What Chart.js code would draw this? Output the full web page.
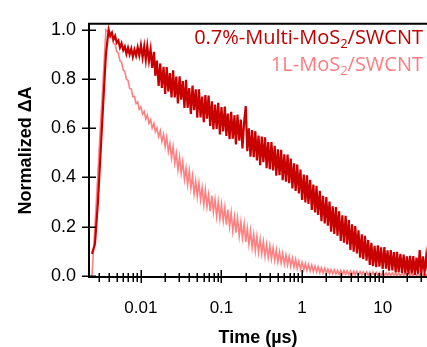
<!DOCTYPE html>
<html>
<head>
<meta charset="utf-8">
<script src="https://cdn.jsdelivr.net/npm/chart.js@4/dist/chart.umd.min.js"></script>
<style>
  html, body { margin: 0; padding: 0; background: #fff; }
</style>
</head>
<body>
<canvas id="decayChart" width="427" height="347"></canvas>
<script>
// Time axis (microseconds)
const timeUs = [
    // rise
    0.00247, 0.00269, 0.00293, 0.0031, 0.00338, 0.00368,
    // decay
    0.00398, 0.00417, 0.00437, 0.00457, 0.00479, 0.00501, 0.00525, 0.00550, 0.00575, 0.00603,
    0.00631, 0.00661, 0.00692, 0.00724, 0.00759, 0.00794, 0.00832, 0.00871, 0.00912, 0.00955,
    0.0100, 0.0105, 0.0110, 0.0115, 0.0120, 0.0126, 0.0132, 0.0138, 0.0145, 0.0151,
    0.0158, 0.0166, 0.0174, 0.0182, 0.0191, 0.0200, 0.0209, 0.0219, 0.0229, 0.0240,
    0.0251, 0.0263, 0.0275, 0.0288, 0.0302, 0.0316, 0.0331, 0.0347, 0.0363, 0.0380,
    0.0398, 0.0417, 0.0437, 0.0457, 0.0479, 0.0501, 0.0525, 0.0550, 0.0575, 0.0603,
    0.0631, 0.0661, 0.0692, 0.0724, 0.0759, 0.0794, 0.0832, 0.0871, 0.0912, 0.0955,
    0.100, 0.105, 0.110, 0.115, 0.120, 0.126, 0.132, 0.138, 0.145, 0.151,
    0.158, 0.166, 0.174, 0.182, 0.191, 0.200, 0.209, 0.219, 0.229, 0.240,
    0.251, 0.263, 0.275, 0.288, 0.302, 0.316, 0.331, 0.347, 0.363, 0.380,
    0.398, 0.417, 0.437, 0.457, 0.479, 0.501, 0.525, 0.550, 0.575, 0.603,
    0.631, 0.661, 0.692, 0.724, 0.759, 0.794, 0.832, 0.871, 0.912, 0.955,
    1.00, 1.05, 1.10, 1.15, 1.20, 1.26, 1.32, 1.38, 1.45, 1.51,
    1.58, 1.66, 1.74, 1.82, 1.91, 2.00, 2.09, 2.19, 2.29, 2.40,
    2.51, 2.63, 2.75, 2.88, 3.02, 3.16, 3.31, 3.47, 3.63, 3.80,
    3.98, 4.17, 4.37, 4.57, 4.79, 5.01, 5.25, 5.50, 5.75, 6.03,
    6.31, 6.61, 6.92, 7.24, 7.59, 7.94, 8.32, 8.71, 9.12, 9.55,
    10.0, 10.5, 11.0, 11.5, 12.0, 12.6, 13.2, 13.8, 14.5, 15.1,
    15.8, 16.6, 17.4, 18.2, 19.1, 20.0, 20.9, 21.9, 22.9, 24.0,
    25.1, 26.3, 27.5, 28.8, 30.2, 31.6, 33.1, 34.7, 36.3
];

// 0.7%-Multi-MoS2/SWCNT (dark red, noisy trace)
const multiMoS2 = [
    0.09, 0.13, 0.30, 0.45, 0.68, 0.90,
    1.0, 0.975, 0.988, 0.96, 0.975, 0.947, 0.956, 0.928, 0.945, 0.917,
    0.932, 0.902, 0.927, 0.90, 0.923, 0.89, 0.919, 0.895, 0.928, 0.896,
    0.937, 0.887, 0.932, 0.878, 0.933, 0.874, 0.92, 0.845, 0.91, 0.813,
    0.875, 0.772, 0.863, 0.764, 0.849, 0.739, 0.848, 0.749, 0.824, 0.725,
    0.835, 0.725, 0.81, 0.701, 0.811, 0.716, 0.791, 0.682, 0.797, 0.683,
    0.763, 0.658, 0.773, 0.673, 0.758, 0.643, 0.758, 0.644, 0.729, 0.625,
    0.735, 0.639, 0.733, 0.609, 0.709, 0.595, 0.696, 0.597, 0.703, 0.575,
    0.686, 0.587, 0.688, 0.569, 0.66, 0.556, 0.667, 0.558, 0.653, 0.534,
    0.655, 0.55, 0.635, 0.518, 0.625, 0.69, 0.507, 0.60, 0.484, 0.593,
    0.482, 0.588, 0.469, 0.57, 0.45, 0.566, 0.462, 0.563, 0.438, 0.544,
    0.434, 0.544, 0.429, 0.529, 0.407, 0.514, 0.409, 0.512, 0.389, 0.494,
    0.383, 0.493, 0.377, 0.477, 0.356, 0.458, 0.345, 0.453, 0.335, 0.432,
    0.309, 0.412, 0.299, 0.409, 0.293, 0.391, 0.268, 0.371, 0.258, 0.366,
    0.248, 0.346, 0.223, 0.326, 0.213, 0.321, 0.204, 0.302, 0.18, 0.283,
    0.171, 0.28, 0.164, 0.263, 0.142, 0.246, 0.135, 0.244, 0.128, 0.227,
    0.106, 0.21, 0.099, 0.203, 0.092, 0.186, 0.074, 0.169, 0.068, 0.163,
    0.062, 0.146, 0.045, 0.135, 0.04, 0.123, 0.036, 0.125, 0.038, 0.116,
    0.029, 0.117, 0.03, 0.104, 0.022, 0.105, 0.023, 0.097, 0.015, 0.098,
    0.016, 0.09, 0.013, 0.087, 0.011, 0.08, 0.008, 0.082, 0.011, 0.081,
    0.005, 0.075, 0.01, 0.105, 0.01, 0.08, 0.015, 0.08, 0.02
];

// 1L-MoS2/SWCNT (light red trace)
const monoMoS2 = [
    0.0, 0.2, 0.42, 0.57, 0.78, 1.0,
    0.99, 0.97, 0.969, 0.944, 0.941, 0.912, 0.904, 0.873, 0.868, 0.837,
    0.831, 0.799, 0.794, 0.762, 0.76, 0.728, 0.729, 0.70, 0.707, 0.676,
    0.687, 0.657, 0.668, 0.637, 0.653, 0.62, 0.635, 0.601, 0.62, 0.586,
    0.601, 0.566, 0.59, 0.546, 0.575, 0.525, 0.563, 0.506, 0.539, 0.478,
    0.525, 0.458, 0.499, 0.43, 0.483, 0.417, 0.465, 0.392, 0.438, 0.37,
    0.427, 0.356, 0.407, 0.334, 0.386, 0.322, 0.378, 0.31, 0.359, 0.29,
    0.35, 0.281, 0.33, 0.263, 0.327, 0.26, 0.31, 0.241, 0.301, 0.233,
    0.292, 0.223, 0.279, 0.208, 0.27, 0.20, 0.257, 0.183, 0.24, 0.176,
    0.235, 0.161, 0.22, 0.154, 0.212, 0.138, 0.194, 0.128, 0.184, 0.115,
    0.169, 0.102, 0.16, 0.096, 0.149, 0.09, 0.14, 0.08, 0.129, 0.076,
    0.123, 0.069, 0.114, 0.064, 0.106, 0.057, 0.098, 0.053, 0.092, 0.048,
    0.085, 0.045, 0.08, 0.04, 0.073, 0.036, 0.068, 0.031, 0.06, 0.028,
    0.056, 0.025, 0.051, 0.023, 0.047, 0.021, 0.044, 0.018, 0.04, 0.016,
    0.037, 0.013, 0.034, 0.012, 0.032, 0.01, 0.028, 0.009, 0.026, 0.008,
    0.025, 0.008, 0.023, 0.007, 0.023, 0.007, 0.022, 0.006, 0.021, 0.005,
    0.02, 0.004, 0.02, 0.004, 0.019, 0.003, 0.018, 0.004, 0.017, 0.003,
    0.017, 0.003, 0.016, 0.002, 0.016, 0.003, 0.015, 0.002, 0.014, 0.002,
    0.014, 0.002, 0.013, 0.001, 0.013, 0.002, 0.013, 0.002, 0.012, 0.001,
    0.012, 0.001, 0.012, 0.001, 0.012, 0.001, 0.011, 0.001, 0.011, 0.001,
    0.011, 0.001, 0.01, 0.001, 0.01, 0.001, 0.01, 0.001, 0.01
];

// Tick values
const majorTicks = [0.01, 0.1, 1, 10];
const minorTicks = [
    0.003, 0.004, 0.005, 0.006, 0.007, 0.008, 0.009,
    0.02, 0.03, 0.04, 0.05, 0.06, 0.07, 0.08, 0.09,
    0.2, 0.3, 0.4, 0.5, 0.6, 0.7, 0.8, 0.9,
    2, 3, 4, 5, 6, 7, 8, 9,
    20, 30
];
const yTicks = [0, 0.2, 0.4, 0.6, 0.8, 1.0];

// Series names, split so the "2" can be drawn as a subscript
const seriesNames = ['0.7%-Multi-MoS₂/SWCNT', '1L-MoS₂/SWCNT'];
const legendParts = [['0.7%-Multi-MoS', '2', '/SWCNT'], ['1L-MoS', '2', '/SWCNT']];
const seriesColors = ['#c80000', '#ff8080'];
const legendColors = ['#c00000', '#ff7c80'];

const allXTicks = [...minorTicks, ...majorTicks].sort((a, b) => a - b);

// Frame and tick marks that cross the axes (Igor-style)
const axisMarks = {
    id: 'axisMarks',
    afterDraw(chart) {
        const { ctx, chartArea: a, scales: { x, y } } = chart;
        ctx.save();
        ctx.strokeStyle = '#000';
        ctx.lineWidth = 2;
        ctx.beginPath();
        ctx.moveTo(a.left, a.bottom);
        ctx.lineTo(a.left, a.top);
        ctx.lineTo(a.right, a.top);
        ctx.moveTo(a.left - 1, a.bottom);
        ctx.lineTo(a.right, a.bottom);
        ctx.stroke();

        ctx.lineWidth = 1.5;
        ctx.beginPath();
        allXTicks.forEach(v => {
            const px = Math.round(x.getPixelForValue(v)) + 0.25;
            const isMajor = majorTicks.includes(v);
            ctx.moveTo(px, a.bottom - (isMajor ? 7 : 4));
            ctx.lineTo(px, a.bottom + (isMajor ? 6 : 5));
        });
        yTicks.forEach(v => {
            const py = Math.round(y.getPixelForValue(v)) + 0.25;
            ctx.moveTo(a.left - 7, py);
            ctx.lineTo(a.left + 7, py);
        });
        ctx.stroke();
        ctx.restore();
    }
};

// Coloured series names in the upper right corner
const seriesLegend = {
    id: 'seriesLegend',
    afterDraw(chart) {
        const ctx = chart.ctx;
        const rightEdge = 423;
        const rows = [38, 65];
        const mainFont = '20px "Open Sans", sans-serif';
        const subFont = '13px "Open Sans", sans-serif';
        ctx.save();
        ctx.textBaseline = 'middle';
        ctx.textAlign = 'left';
        legendParts.forEach((parts, i) => {
            const widths = parts.map((p, k) => {
                ctx.font = k === 1 ? subFont : mainFont;
                return ctx.measureText(p).width;
            });
            let px = rightEdge - widths.reduce((s, w) => s + w, 0);
            ctx.fillStyle = legendColors[i];
            parts.forEach((p, k) => {
                ctx.font = k === 1 ? subFont : mainFont;
                ctx.fillText(p, px, rows[i] + (k === 1 ? 6 : 0));
                px += widths[k];
            });
        });
        ctx.restore();
    }
};

const ctx = document.getElementById('decayChart').getContext('2d');

const data = {
    datasets: [
        {
            label: seriesNames[0],
            data: timeUs.map((t, i) => ({ x: t, y: multiMoS2[i] })),
            borderColor: seriesColors[0],
            borderWidth: 2.2,
            pointRadius: 0,
            tension: 0
        },
        {
            label: seriesNames[1],
            data: timeUs.map((t, i) => ({ x: t, y: monoMoS2[i] })),
            borderColor: seriesColors[1],
            borderWidth: 1.6,
            pointRadius: 0,
            tension: 0
        }
    ]
};

const config = {
    type: 'line',
    data: data,
    options: {
        responsive: false,
        animation: false,
        layout: { padding: { top: 17, right: 0, left: 0, bottom: 0 } },
        plugins: {
            legend: { display: false },
            tooltip: { enabled: false }
        },
        scales: {
            x: {
                type: 'logarithmic',
                min: 0.00227,
                max: 35.5,
                grid: { display: false, drawTicks: false },
                border: { display: false },
                afterBuildTicks: scale => {
                    scale.ticks = allXTicks.map(v => ({ value: v }));
                },
                afterFit: scale => {
                    scale.height = 70;
                    scale.paddingLeft = 0;
                    scale.paddingRight = 0;
                },
                ticks: {
                    autoSkip: false,
                    maxRotation: 0,
                    padding: 21,
                    color: '#000',
                    font: { family: '"Liberation Sans", Arial, sans-serif', size: 17 },
                    callback: v => majorTicks.includes(v) ? String(v) : ''
                },
                title: {
                    display: true,
                    text: 'Time (µs)',
                    color: '#000',
                    padding: { top: 0, bottom: 0 },
                    font: { family: '"Liberation Sans", Arial, sans-serif', size: 18, weight: 'bold', lineHeight: 1 }
                }
            },
            y: {
                min: -0.004,
                max: 1.024,
                grid: { display: false, drawTicks: false },
                border: { display: false },
                afterBuildTicks: scale => {
                    scale.ticks = yTicks.map(v => ({ value: v }));
                },
                afterFit: scale => { scale.width = 89; },
                ticks: {
                    padding: 13,
                    color: '#000',
                    font: { family: '"Liberation Sans", Arial, sans-serif', size: 18 },
                    callback: v => v.toFixed(1)
                },
                title: {
                    display: true,
                    text: 'Normalized ΔA',
                    color: '#000',
                    padding: { top: 17, bottom: 0 },
                    font: { family: '"Liberation Sans", Arial, sans-serif', size: 18, weight: 'bold', lineHeight: 1 }
                }
            }
        }
    },
    plugins: [axisMarks, seriesLegend]
};

const decayChart = new Chart(ctx, config);
</script>
</body>
</html>
